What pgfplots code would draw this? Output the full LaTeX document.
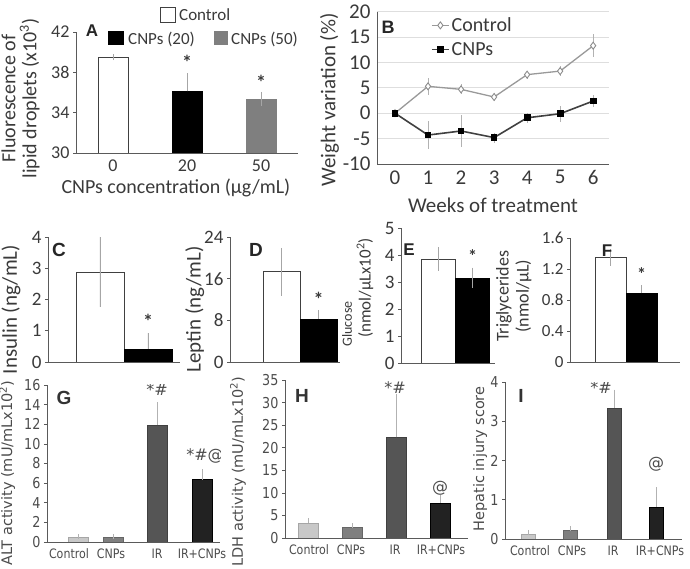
\documentclass[border=0pt]{standalone}
\usepackage{fontspec}
\setmainfont{Carlito}
\newfontfamily\dv{DejaVu Sans}
\newfontfamily\lsans{Liberation Sans}
\usepackage{graphicx}
\usepackage{pgfplots}
\pgfplotsset{compat=1.18}
\newcommand\fs[2]{\fontsize{#1}{#2}\selectfont}
\newcommand\nar[1]{\scalebox{0.85}[1]{#1}}
\definecolor{txt}{HTML}{3A3A3A}
\definecolor{axc}{HTML}{5A5A5A}
\definecolor{ctl}{HTML}{C8C8C8}
\definecolor{cnp}{HTML}{7F7F7F}
\definecolor{ir}{HTML}{555555}
\definecolor{irc}{HTML}{222222}
\pgfplotsset{
  panel/.style={scale only axis, anchor=south west,
    axis x line*=bottom, axis y line*=left,
    axis line style={axc, line width=0.9pt},
    /pgf/number format/assume math mode=true,
    xtick style={draw=none}, ytick style={axc, line width=0.6pt},
    tick align=outside, major tick length=3pt,
    tick label style={text=txt}, label style={text=txt},
    ylabel style={anchor=center}, xlabel style={anchor=center}},
  bar/.style={ybar, bar shift=0pt, bar width=#1},
  eb/.style={error bars/.cd, y dir=#1, y explicit, error mark=none,
    error bar style={black!35, line width=0.9pt}},
  ebc/.style={error bars/.cd, y dir=plus, y explicit, error mark=-,
    error mark options={black!30, line width=0.8pt, mark size=2.5pt},
    error bar style={black!30, line width=0.9pt}},
  gfont/.style={tick label style={font=\dv\fs{15}{17}, text=black!70},
    yticklabel={\nar{\pgfmathprintnumber{\tick}}},
    xticklabel style={font=\dv\fs{13}{15}},
    label style={font=\dv\fs{14.5}{16}, text=black!70}},
}
\begin{document}
\begin{tikzpicture}
\useasboundingbox (0,0) rectangle (690pt,569pt);

% ---------------- A
\begin{axis}[panel, at={(76pt,416pt)}, width=222pt, height=121pt,
  xmin=-0.5, xmax=2.5, ymin=30, ymax=42, ytick={30,34,38,42},
  xtick={0,1,2}, xticklabels={0,20,50},
  tick label style={font=\fs{18}{20}}, label style={font=\fs{20}{21}},
  xlabel={CNPs concentration (μg/mL)},
  xlabel style={at={(axis description cs:0.45,-0.29)}},
  ylabel={Fluorescence of\\lipid droplets (x10\textsuperscript{3})},
  ylabel style={align=center, at={(axis description cs:-0.25,0.45)}}]
\addplot[bar=30pt, fill=white, draw=black!75, line width=0.8pt, eb=both] coordinates {(0,39.5) +- (0,0.3)};
\addplot[bar=30pt, fill=black, draw=black, eb=plus] coordinates {(1,36.1) +- (0,1.8)};
\addplot[bar=30pt, fill=cnp, draw=cnp, eb=both] coordinates {(2,35.35) +- (0,0.7)};
\node[font=\bfseries\fs{20}{20}, text=txt] at (axis cs:1,39.0) {*};
\node[font=\bfseries\fs{20}{20}, text=txt] at (axis cs:2,37.0) {*};
\end{axis}
% legend A
\draw[black!75, line width=0.7pt, fill=white] (160pt,547pt) rectangle (175pt,562pt);
\node[anchor=west, inner sep=0pt, font=\fs{17}{18}, text=txt] at (179pt,554pt) {Control};
\fill[black] (108pt,524pt) rectangle (124pt,538pt);
\node[anchor=west, inner sep=0pt, font=\fs{17}{18}, text=txt] at (128pt,530pt) {CNPs (20)};
\fill[cnp] (214pt,524pt) rectangle (228pt,538pt);
\node[anchor=west, inner sep=0pt, font=\fs{17}{18}, text=txt] at (231pt,530pt) {CNPs (50)};
\node[font=\lsans\bfseries\fs{17}{18}, text=black!85] at (92pt,538pt) {A};

% ---------------- B
\begin{axis}[panel, at={(377pt,405pt)}, width=232pt, height=152.3pt,
  xmin=-0.545, xmax=6.48, ymin=-10, ymax=20, ytick={-10,-5,...,20}, xtick={0,...,6},
  ytick style={draw=none},
  ymajorgrids, grid style={black!13, line width=0.9pt},
  tick label style={font=\fs{21}{23}}, label style={font=\fs{21}{23}},
  xlabel={Weeks of treatment}, xlabel style={at={(axis description cs:0.5,-0.27)}},
  ylabel={Weight variation (\%)}, ylabel style={at={(axis description cs:-0.205,0.42)}},
  legend style={at={(0.232,0.975)}, anchor=north west, draw=none, fill=none,
    font=\fs{20}{24}, text=txt, row sep=5pt, inner sep=0pt},
  legend cell align=left]
\addplot[black!40, line width=1.3pt, mark=diamond*, mark size=3.5pt,
  mark options={fill=white, draw=black!45, line width=0.9pt},
  error bars/.cd, y dir=both, y explicit, error mark=none,
  error bar style={black!30, line width=0.9pt}]
  coordinates {(0,0) +- (0,0.3) (1,5.3) +- (0,1.7) (2,4.7) +- (0,1.0) (3,3.2) +- (0,0.8)
               (4,7.6) +- (0,0.8) (5,8.3) +- (0,1.0) (6,13.3) +- (0,2.3)};
\addplot[black!75, line width=1.6pt, mark=square*, mark size=2.6pt,
  mark options={fill=black, draw=black},
  error bars/.cd, y dir=both, y explicit, error mark=none,
  error bar style={black!30, line width=0.9pt}]
  coordinates {(0,0) +- (0,0.3) (1,-4.3) +- (0,2.7) (2,-3.5) +- (0,3.2) (3,-4.8) +- (0,1.0)
               (4,-0.9) +- (0,1.0) (5,-0.1) +- (0,1.6) (6,2.4) +- (0,1.2)};
\legend{Control, CNPs}
\end{axis}
\node[font=\lsans\bfseries\fs{18}{19}, text=black!85] at (388pt,542pt) {B};

% ---------------- C
\begin{axis}[panel, at={(48pt,207pt)}, width=132pt, height=125pt,
  xmin=-1.083, xmax=1.667, ymin=0, ymax=4, ytick={0,...,4}, xtick=\empty,
  tick label style={font=\fs{19}{21}}, label style={font=\fs{21}{23}},
  ylabel={Insulin (ng/mL)}, ylabel style={at={(axis description cs:-0.28,0.42)}}]
\addplot[bar=48pt, fill=white, draw=black!75, line width=0.8pt, eb=both] coordinates {(0,2.88) +- (0,1.12)};
\addplot[bar=48pt, fill=black, draw=black, eb=plus] coordinates {(1,0.42) +- (0,0.5)};
\node[font=\bfseries\fs{20}{20}, text=txt] at (axis cs:1,1.3) {*};
\end{axis}
\node[font=\lsans\bfseries\fs{19}{20}, text=black!85] at (59pt,319pt) {C};

% ---------------- D
\begin{axis}[panel, at={(230pt,207pt)}, width=110pt, height=125pt,
  xmin=-1.39, xmax=1.58, ymin=0, ymax=24, ytick={0,8,16,24}, xtick=\empty,
  tick label style={font=\fs{19}{21}}, label style={font=\fs{21}{23}},
  ylabel={Leptin (ng/mL)}, ylabel style={at={(axis description cs:-0.32,0.42)}}]
\addplot[bar=37pt, fill=white, draw=black!75, line width=0.8pt, eb=both] coordinates {(0,17.3) +- (0,4.6)};
\addplot[bar=37pt, fill=black, draw=black, eb=plus] coordinates {(1,8.3) +- (0,1.7)};
\node[font=\bfseries\fs{20}{20}, text=txt] at (axis cs:1,12.0) {*};
\end{axis}
\node[font=\lsans\bfseries\fs{19}{20}, text=black!85] at (256pt,319pt) {D};

% ---------------- E
\begin{axis}[panel, at={(401pt,206pt)}, width=94pt, height=135pt,
  xmin=-1.10, xmax=1.66, ymin=0, ymax=5, ytick={0,...,5}, xtick=\empty,
  tick label style={font=\fs{19}{21}}]
\addplot[bar=34pt, fill=white, draw=black!75, line width=0.8pt, eb=both] coordinates {(0,3.85) +- (0,0.43)};
\addplot[bar=34pt, fill=black, draw=black, eb=both] coordinates {(1,3.15) +- (0,0.38)};
\node[font=\bfseries\fs{18}{18}, text=txt] at (axis cs:1,3.95) {*};
\end{axis}
\node[rotate=90, font=\fs{14}{15}, text=txt] at (347pt,245pt) {Glucose};
\node[rotate=90, font=\fs{17}{19}, text=txt] at (365pt,281pt) {(nmol/μLx10\textsuperscript{2})};
\node[font=\lsans\bfseries\fs{17}{18}, text=black!85] at (409pt,319pt) {E};

% ---------------- F
\begin{axis}[panel, at={(570pt,207pt)}, width=110pt, height=124pt,
  xmin=-1.31, xmax=2.24, ymin=0, ymax=1.6, ytick={0,0.4,0.8,1.2,1.6},
  yticklabels={0,0.4,0.8,1.2,1.6}, xtick=\empty,
  tick label style={font=\fs{17}{19}}, label style={font=\fs{18}{20}},
  ylabel={Triglycerides\\(nmol/μL)},
  ylabel style={align=center, at={(axis description cs:-0.51,0.53)}}]
\addplot[bar=31pt, fill=white, draw=black!75, line width=0.8pt, eb=both] coordinates {(0,1.35) +- (0,0.11)};
\addplot[bar=31pt, fill=black, draw=black, eb=plus] coordinates {(1,0.89) +- (0,0.1)};
\node[font=\bfseries\fs{18}{18}, text=txt] at (axis cs:1,1.13) {*};
\end{axis}
\node[font=\lsans\bfseries\fs{17}{18}, text=black!85] at (607pt,318pt) {F};

% ---------------- G
\begin{axis}[panel, gfont, at={(47pt,27pt)}, width=173pt, height=157pt,
  xmin=0, xmax=173, ymin=0, ymax=16, ytick={0,2,...,16},
  xtick={22,64,110,155},
  xticklabels={\nar{Control},\nar{CNPs},\nar{IR},\nar{IR+CNPs}},
  ylabel={ALT activity (mU/mLx10\textsuperscript{2})},
  ylabel style={at={(axis description cs:-0.23,0.44)}}]
\addplot[bar=20pt, fill=ctl, draw=black!35, ebc] coordinates {(31,0.45) +- (0,0.1)};
\addplot[bar=20pt, fill=cnp, draw=black!60, ebc] coordinates {(66,0.45) +- (0,0.1)};
\addplot[bar=20pt, fill=ir, draw=black!75, ebc] coordinates {(110,11.9) +- (0,2.1)};
\addplot[bar=20pt, fill=irc, draw=black, ebc] coordinates {(155,6.35) +- (0,0.8)};
\node[font=\dv\fs{16}{17}, text=black!70] at (axis cs:110,15.5) {*\#};
\node[font=\dv\fs{16}{17}, text=black!70] at (axis cs:158,8.8) {*\#@};
\end{axis}
\node[font=\lsans\bfseries\fs{19}{20}, text=black!80] at (64pt,171pt) {G};

% ---------------- H
\begin{axis}[panel, gfont, at={(285pt,31pt)}, width=183pt, height=158pt,
  xmin=0, xmax=183, ymin=0, ymax=35, ytick={0,5,...,35},
  xtick={24,66,110,156},
  xticklabels={\nar{Control},\nar{CNPs},\nar{IR},\nar{IR+CNPs}},
  ylabel={LDH activity (mU/mLx10\textsuperscript{2})},
  ylabel style={at={(axis description cs:-0.257,0.42)}}]
\addplot[bar=20pt, fill=ctl, draw=black!35, ebc] coordinates {(23,3.3) +- (0,0.5)};
\addplot[bar=20pt, fill=cnp, draw=black!60, ebc] coordinates {(67,2.5) +- (0,0.2)};
\addplot[bar=20pt, fill=ir, draw=black!75, ebc] coordinates {(111,22.3) +- (0,9.0)};
\addplot[bar=20pt, fill=irc, draw=black, ebc] coordinates {(155,7.8) +- (0,1.2)};
\node[font=\dv\fs{16}{17}, text=black!70] at (axis cs:110,33.3) {*\#};
\node[font=\dv\fs{16}{17}, text=black!70] at (axis cs:155,11.0) {@};
\end{axis}
\node[font=\lsans\bfseries\fs{19}{20}, text=black!80] at (302pt,173pt) {H};

% ---------------- I
\begin{axis}[panel, gfont, at={(505pt,30pt)}, width=177pt, height=157pt,
  xmin=0, xmax=177, ymin=0, ymax=4, ytick={0,...,4},
  xtick={25,67,108,155},
  xticklabels={\nar{Control},\nar{CNPs},\nar{IR},\nar{IR+CNPs}},
  ylabel={Hepatic injury score},
  ylabel style={at={(axis description cs:-0.14,0.51)}}]
\addplot[bar=14pt, fill=ctl, draw=black!35, ebc] coordinates {(23,0.12) +- (0,0.05)};
\addplot[bar=14pt, fill=cnp, draw=black!60, ebc] coordinates {(65,0.22) +- (0,0.05)};
\addplot[bar=14pt, fill=ir, draw=black!75, ebc] coordinates {(109,3.34) +- (0,0.4)};
\addplot[bar=14pt, fill=irc, draw=black, ebc] coordinates {(151,0.82) +- (0,0.43)};
\node[font=\dv\fs{16}{17}, text=black!70] at (axis cs:96,3.85) {*\#};
\node[font=\dv\fs{16}{17}, text=black!70] at (axis cs:151,1.9) {@};
\end{axis}
\node[font=\lsans\bfseries\fs{19}{20}, text=black!80] at (521pt,173pt) {I};
\end{tikzpicture}
\end{document}
